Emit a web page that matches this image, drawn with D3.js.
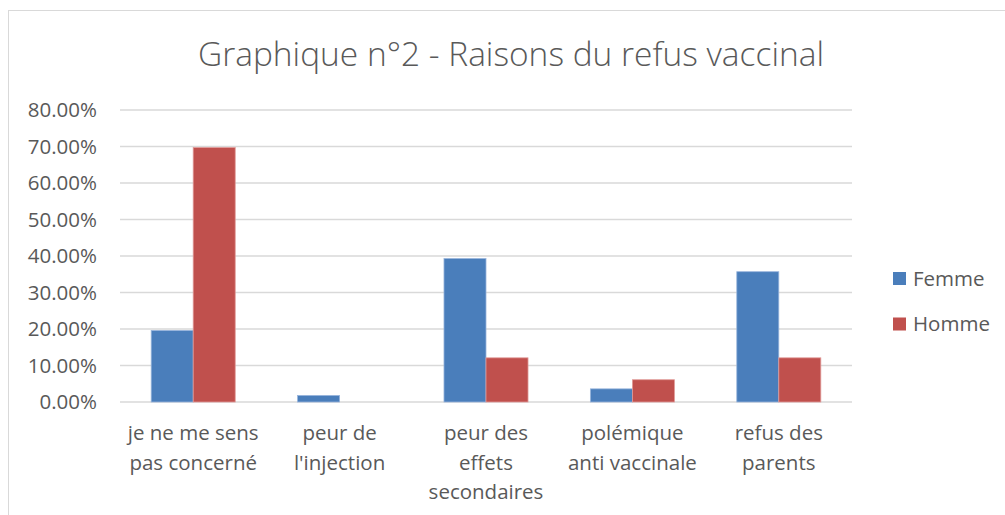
<!DOCTYPE html>
<html>
<head>
<meta charset="utf-8">
<script src="https://cdn.jsdelivr.net/npm/d3@7"></script>
<style>
  body { margin: 0; background: #fff; }
  text { font-family: "Open Sans", sans-serif; fill: #595959; }
</style>
</head>
<body>
<svg id="chart" width="1005" height="515"></svg>
<script>
// data
const categories = [
  ["je ne me sens", "pas concerné"],
  ["peur de", "l'injection"],
  ["peur des", "effets", "secondaires"],
  ["polémique", "anti vaccinale"],
  ["refus des", "parents"]
];
const seriesNames = ["Femme", "Homme"];
const femme = [0.196, 0.018, 0.393, 0.036, 0.357];
const homme = [0.697, 0, 0.121, 0.061, 0.121];
const yTicks = [0, 0.1, 0.2, 0.3, 0.4, 0.5, 0.6, 0.7, 0.8];
const colors = ["#4A7EBB", "#C0504D"];

const svg = d3.select('#chart');

// outer chart frame
svg.append('rect')
  .attr('x', 8.5).attr('y', 10.5)
  .attr('width', 1010).attr('height', 520)
  .attr('fill', 'white')
  .attr('stroke', '#d9d9d9');

const plotLeft = 120, plotRight = 852, plotTop = 110, plotBottom = 402;

const x0 = d3.scaleBand()
  .domain(d3.range(categories.length))
  .range([plotLeft, plotRight])
  .paddingInner(0.426)   // ~150% gap width
  .paddingOuter(0.213);
const x1 = d3.scaleBand()
  .domain(seriesNames)
  .range([0, x0.bandwidth()]);
const y = d3.scaleLinear()
  .domain([0, 0.8])
  .range([plotBottom, plotTop]);

// gridlines
svg.append('g')
  .selectAll('line')
  .data(yTicks)
  .join('line')
    .attr('x1', plotLeft).attr('x2', plotRight)
    .attr('y1', d => y(d)).attr('y2', d => y(d))
    .attr('stroke', '#d9d9d9')
    .attr('stroke-width', 1.5);

// y axis labels
const yAxis = d3.axisLeft(y)
  .tickValues(yTicks)
  .tickFormat(d => (d * 100).toFixed(2) + '%')
  .tickSize(0)
  .tickPadding(0);
const gy = svg.append('g')
  .attr('transform', `translate(97,0)`)
  .call(yAxis);
gy.select('.domain').remove();
gy.selectAll('text')
  .attr('font-size', 20.5)
  .attr('font-family', '"Open Sans", sans-serif')
  .attr('fill', '#595959');

// bars
const rows = categories.map((c, i) => ({ i, values: [femme[i], homme[i]] }));
svg.append('g')
  .selectAll('g')
  .data(rows)
  .join('g')
    .attr('transform', d => `translate(${x0(d.i)},0)`)
  .selectAll('rect')
  .data(d => d.values.map((v, k) => ({ k, v })))
  .join('rect')
    .attr('x', d => x1(seriesNames[d.k]))
    .attr('y', d => y(d.v))
    .attr('width', x1.bandwidth())
    .attr('height', d => y(0) - y(d.v))
    .attr('fill', d => colors[d.k])
    .attr('stroke', d => d.k === 0 ? '#98b5dc' : '#e09a98')
    .attr('stroke-width', d => d.v > 0 ? 0.8 : 0);

// x axis labels
const xAxis = d3.axisBottom(x0)
  .tickSize(0)
  .tickFormat('');
const gx = svg.append('g')
  .attr('transform', `translate(0,${plotBottom})`)
  .call(xAxis);
gx.select('.domain').remove();
svg.append('g')
  .selectAll('text')
  .data(categories.map((c, i) => ({ c, i })))
  .join('text')
    .attr('text-anchor', 'middle')
    .attr('font-size', 20.5)
    .attr('x', d => x0(d.i) + x0.bandwidth() / 2)
    .attr('y', 440)
  .selectAll('tspan')
  .data(d => d.c.map((line, j) => ({ line, j, xx: x0(d.i) + x0.bandwidth() / 2 })))
  .join('tspan')
    .attr('x', d => d.xx)
    .attr('dy', d => d.j === 0 ? 0 : 29.5)
    .text(d => d.line);

// title
svg.append('text')
  .attr('x', 511)
  .attr('y', 66)
  .attr('text-anchor', 'middle')
  .attr('font-size', 33)
  .attr('font-weight', 300)
  .attr('textLength', 626)
  .attr('lengthAdjust', 'spacingAndGlyphs')
  .text('Graphique n°2 - Raisons du refus vaccinal');

// legend
const legend = svg.append('g')
  .selectAll('g')
  .data(seriesNames)
  .join('g')
    .attr('transform', (d, i) => `translate(893,${272 + i * 45.5})`);
legend.append('rect')
  .attr('width', 13).attr('height', 13)
  .attr('fill', (d, i) => colors[i]);
legend.append('text')
  .attr('x', 20).attr('y', 13.5)
  .attr('font-size', 20.5)
  .text(d => d);
</script>
</body>
</html>
